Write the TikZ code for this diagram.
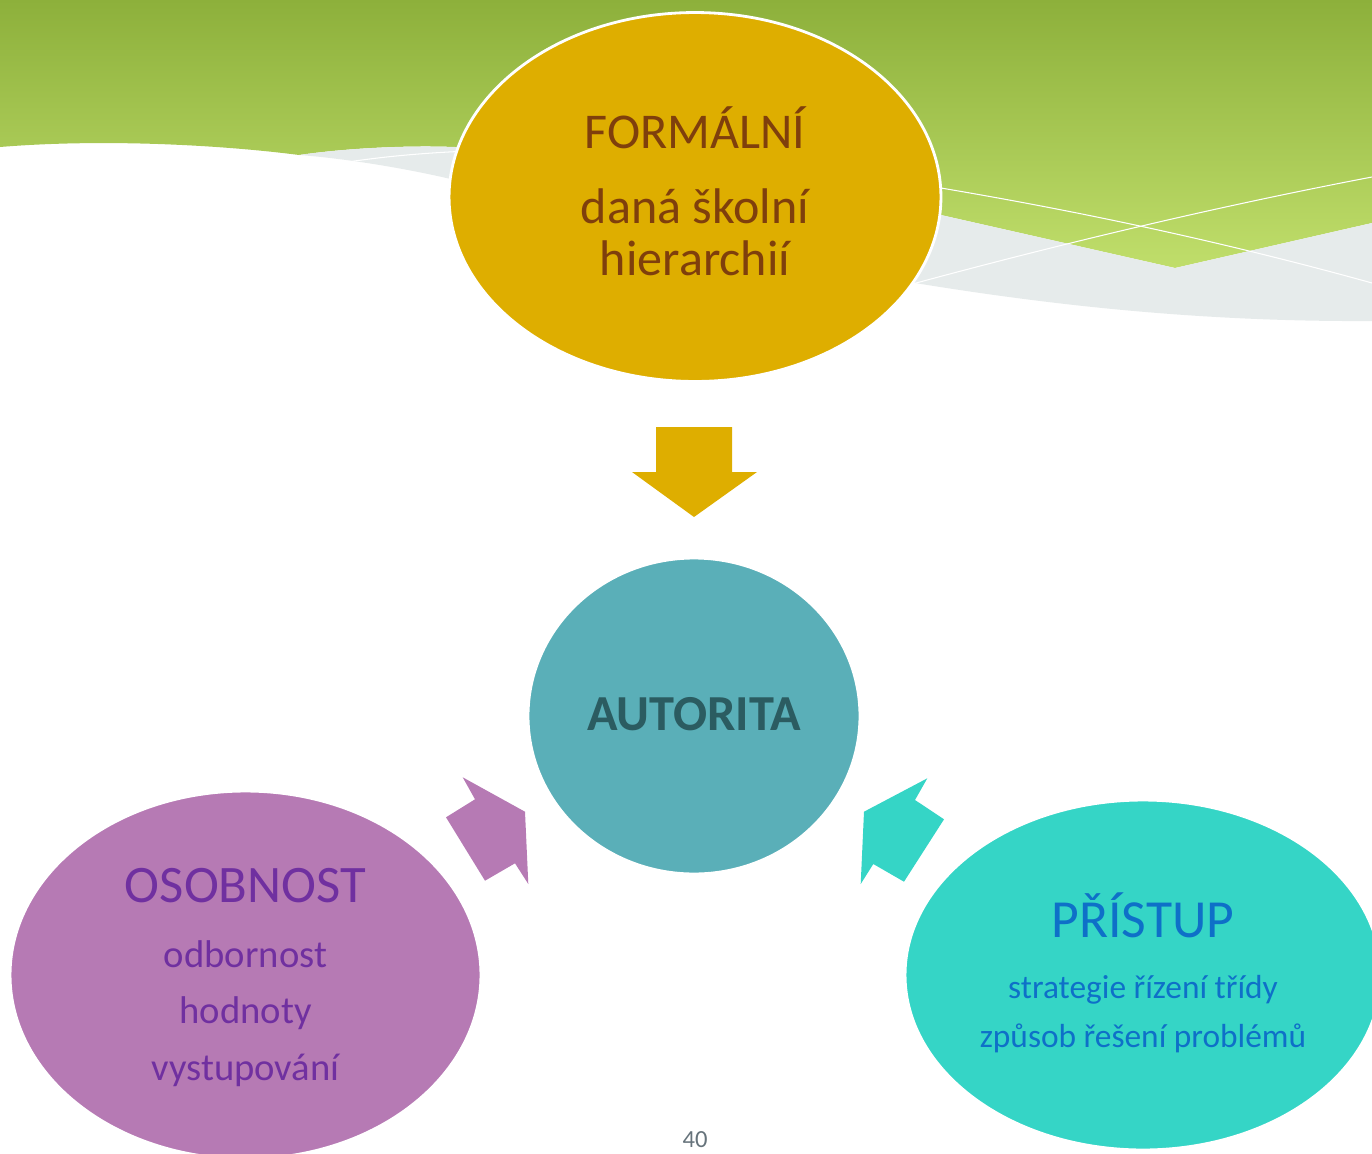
\documentclass[tikz,border=0pt]{standalone}
\usepackage{fontspec}
\setmainfont{Carlito}
\usetikzlibrary{shapes.geometric}

\definecolor{bandtop}{HTML}{8DB03B}
\definecolor{bandbot}{HTML}{C0DE6B}
\definecolor{wavegrey}{HTML}{E6EBEB}
\definecolor{gold}{HTML}{DEAE00}
\definecolor{goldtext}{HTML}{7F3F0C}
\definecolor{steel}{HTML}{5AAFB8}
\definecolor{steeltext}{HTML}{2B5C61}
\definecolor{lilac}{HTML}{B67AB4}
\definecolor{lilactext}{HTML}{7030A0}
\definecolor{aqua}{HTML}{35D5C6}
\definecolor{aquatext}{HTML}{0E70C8}
\definecolor{pagegrey}{HTML}{66737B}

\begin{document}
\begin{tikzpicture}[x=0.02cm,y=-0.02cm,
  bubble/.style={ellipse,draw=white,line width=1.6pt,inner sep=0pt},
  title/.style={anchor=base,font=\fontsize{30}{36}\selectfont},
  item/.style={anchor=base,font=\fontsize{22}{26}\selectfont}]
\useasboundingbox (0,0) rectangle (1372,1153);
\clip (0,0) rectangle (1372,1153);

% the green band and the grey wave
\shade [top color=bandtop,bottom color=bandbot] (0,0)--(1372,0)--(1372,223)--(1175,268)--(941,215)--(455,147)
   .. controls (400,145) and (340,149) .. (299,155) .. controls (230,146) and (110,138) .. (0,147)--cycle;
\fill [wavegrey] (299,155) .. controls (340,149) and (400,145) .. (455,147)--(941,215)--(1175,268)--(1372,223)--(1372,321)
   .. controls (1200,322) and (1050,305) .. (915,283)--(700,240)--(455,180) .. controls (400,167) and (340,158) .. (299,155)--cycle;
\draw [white,line width=0.6pt] (341,163) .. controls (380,157) and (420,153) .. (470,151);
\draw [white,line width=0.6pt] (935,187) .. controls (1084,212) and (1228,243) .. (1372,283);
\draw [white,line width=0.6pt] (905,286) .. controls (1067,242) and (1220,206) .. (1372,177);

% the ellipses
\node [bubble,fill=gold,minimum width=9.84cm,minimum height=7.38cm] (formal) at (695,197) {};
\node [bubble,fill=steel,minimum width=6.64cm,minimum height=6.32cm] (autorita) at (694,716) {};
\node [bubble,fill=lilac,minimum width=9.42cm,minimum height=7.36cm] (osobnost) at (245.5,975) {};
\node [bubble,fill=aqua,minimum width=9.52cm,minimum height=7.0cm] (pristup) at (1143,975) {};

% the block arrows
\fill [gold] (656,427)--(732,427)--(732,472)--(757,472)--(694,517)--(632,472)--(656,472)--cycle;
\fill [lilac] (462.7,777.3)--(525,811.7)--(528.3,884)--(515,863.3)--(485,880.7)--(446,817.3)--(475,799.3)--cycle;
\fill [aqua] (927.3,778.3)--(915,800)--(944,819.3)--(904,881.7)--(873.3,864)--(860.7,884)--(864,811.7)--cycle;

% the texts
\node [title,goldtext,font=\fontsize{28.5}{34}\selectfont] (formal-t) at (695,148) {FORMÁLNÍ};
\node [title,goldtext,font=\fontsize{28.5}{34}\selectfont] (formal-a) at (695,223) {daná školní};
\node [title,goldtext,font=\fontsize{28.5}{34}\selectfont] (formal-b) at (695,275) {hierarchií};

\node [title,steeltext,font=\bfseries\fontsize{28.7}{34}\selectfont] (autorita-t) at (694,730) {AUTORITA};

\node [title,lilactext] (osobnost-t) at (245.5,902) {OSOBNOST};
\node [item,lilactext] (osobnost-a) at (245.5,967) {odbornost};
\node [item,lilactext] (osobnost-b) at (245.5,1023) {hodnoty};
\node [item,lilactext] (osobnost-c) at (245.5,1080) {vystupování};

\node [title,aquatext,font=\fontsize{30.5}{36}\selectfont] (pristup-t) at (1143,937) {PŘÍSTUP};
\node [item,aquatext,font=\fontsize{19}{23}\selectfont] (pristup-a) at (1143,998) {strategie řízení třídy};
\node [item,aquatext,font=\fontsize{19}{23}\selectfont] (pristup-b) at (1143,1047) {způsob řešení problémů};

\node [anchor=base,inner sep=0pt,pagegrey,font=\fontsize{14}{16}\selectfont] (page) at (695,1147) {40};
\end{tikzpicture}
\end{document}
